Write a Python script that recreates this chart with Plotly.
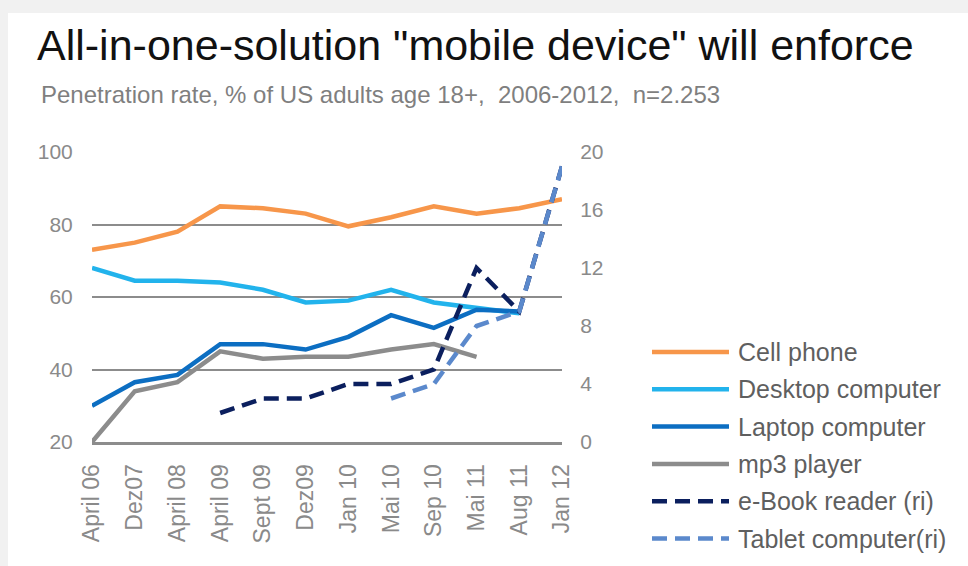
import plotly.graph_objects as go

# Survey waves (category axis)
periods = ["April 06", "Dez07", "April 08", "April 09", "Sept 09", "Dez09",
           "Jan 10", "Mai 10", "Sep 10", "Mai 11", "Aug 11", "Jan 12"]

# Penetration rate in % (left axis)
cell_phone = [73, 75, 78, 85, 84.5, 83, 79.5, 82, 85, 83, 84.5, 87]
desktop_computer = [68, 64.5, 64.5, 64, 62, 58.5, 59, 62, 58.5, 57, 55.5, None]
laptop_computer = [30, 36.5, 38.5, 47, 47, 45.5, 49, 55, 51.5, 56.5, 56, None]
mp3_player = [20, 34, 36.5, 45, 43, 43.5, 43.5, 45.5, 47, 43.5, None, None]

# Penetration rate in % (right axis)
ebook_reader = [None, None, None, 2, 3, 3, 4, 4, 5, 12, 9, 19]
tablet_computer = [None, None, None, None, None, None, None, 3, 4, 8, 9, 19]

left_ticks = [20, 40, 60, 80, 100]
right_ticks = [0, 4, 8, 12, 16, 20]

W, H = 968, 566
L, R, T, B = 92, 562, 152, 442  # plot area in pixels

FONT = "Liberation Sans, Arial, sans-serif"
GREY_TXT = "#8a8a8a"


def px(x):
    return (x - L) / (R - L)


def py(y):
    return (B - y) / (B - T)


series = [
    ("Cell phone", cell_phone, "#F7964A", "solid", "y"),
    ("Desktop computer", desktop_computer, "#22B3EC", "solid", "y"),
    ("Laptop computer", laptop_computer, "#0C6EC2", "solid", "y"),
    ("mp3 player", mp3_player, "#8C8C8C", "solid", "y"),
    ("e-Book reader (ri)", ebook_reader, "#0B1F5E", "15px,8px", "y2"),
    ("Tablet computer(ri)", tablet_computer, "#5B89CC", "15px,8px", "y2"),
]

fig = go.Figure()
for name, vals, color, dash, yax in series:
    fig.add_trace(go.Scatter(
        x=list(range(len(periods))), y=vals, name=name, mode="lines",
        line=dict(color=color, width=4.5, dash=dash),
        yaxis=yax, showlegend=False, connectgaps=False,
    ))

shapes = [
    # light frame band at top and left edge
    dict(type="rect", xref="paper", yref="paper", layer="below",
         x0=px(8), x1=px(W + 5), y0=py(H + 5), y1=py(13),
         fillcolor="white", line=dict(width=0)),
]
annotations = [
    dict(text='All-in-one-solution "mobile device" will enforce',
         xref="paper", yref="paper", x=px(35), y=py(45),
         xanchor="left", yanchor="middle", showarrow=False,
         font=dict(family=FONT, size=43, color="#111111")),
    dict(text="Penetration rate, % of US adults age 18+,  2006-2012,  n=2.253",
         xref="paper", yref="paper", x=px(39), y=py(95),
         xanchor="left", yanchor="middle", showarrow=False,
         font=dict(family=FONT, size=24, color="#7f7f7f")),
]

# legend drawn as line samples with labels
leg_y0, leg_step = 352, 37.3
for i, (name, vals, color, dash, yax) in enumerate(series):
    yy = py(leg_y0 + i * leg_step)
    shapes.append(dict(type="line", xref="paper", yref="paper",
                       x0=px(652), x1=px(729), y0=yy, y1=yy,
                       line=dict(color=color, width=4.5, dash=dash)))
    annotations.append(dict(text=name, xref="paper", yref="paper",
                            x=px(736), y=yy, xanchor="left", yanchor="middle",
                            showarrow=False,
                            font=dict(family=FONT, size=25, color="#5f5f5f")))

fig.update_layout(
    width=W, height=H,
    margin=dict(l=L, r=W - R, t=T, b=H - B, pad=0),
    paper_bgcolor="#f1f1f1", plot_bgcolor="rgba(0,0,0,0)",
    shapes=shapes, annotations=annotations,
    xaxis=dict(
        range=[0, len(periods) - 1], tickmode="array",
        tickvals=list(range(len(periods))), ticktext=periods,
        tickangle=-90, showgrid=False, zeroline=False,
        showline=True, linecolor="#8c8c8c", linewidth=3,
        ticks="outside", ticklen=10, tickcolor="rgba(0,0,0,0)",
        tickfont=dict(family=FONT, size=23, color=GREY_TXT),
    ),
    yaxis=dict(
        range=[20, 100], tickmode="array", tickvals=left_ticks,
        showgrid=True, gridcolor="#8c8c8c", gridwidth=1.5,
        zeroline=False, showline=False,
        ticks="outside", ticklen=14, tickcolor="rgba(0,0,0,0)",
        tickfont=dict(family=FONT, size=21, color=GREY_TXT),
    ),
    yaxis2=dict(
        range=[0, 20], tickmode="array", tickvals=right_ticks,
        overlaying="y", side="right", showgrid=False, zeroline=False,
        showline=False, ticks="outside", ticklen=13,
        tickcolor="rgba(0,0,0,0)",
        tickfont=dict(family=FONT, size=21, color=GREY_TXT),
    ),
)

fig.write_html("out.html")
